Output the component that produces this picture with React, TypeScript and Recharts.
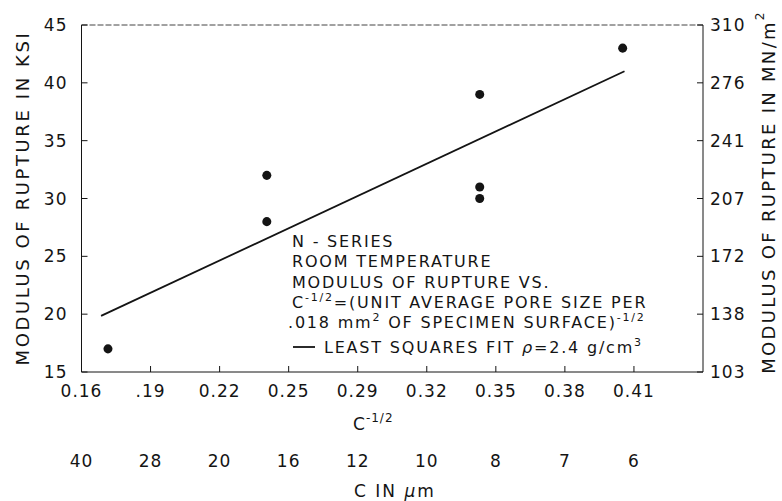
import { ComposedChart, Line, ReferenceLine, Scatter, XAxis, YAxis } from 'recharts'

// evenly spaced tick positions on the C^-1/2 scale, with the labels printed on the original
const xTicks = [0.16, 0.19, 0.22, 0.25, 0.28, 0.31, 0.34, 0.37, 0.4]
const xTickLabels = ['0.16', '.19', '0.22', '0.25', '0.29', '0.32', '0.35', '0.38', '0.41']
const cTickLabels = ['40', '28', '20', '16', '12', '10', '8', '7', '6']
const ksiTicks = [15, 20, 25, 30, 35, 40, 45]
const ksiTickLabels = ['15', '20', '25', '30', '35', '40', '45']
const mpaTickLabels = ['103', '138', '172', '207', '241', '276', '310']

// measured specimens (modulus of rupture, ksi)
const sampleX = [0.1715, 0.2405, 0.2405, 0.333, 0.333, 0.333, 0.3951]
const sampleRupture = [17, 32, 28, 39, 31, 30, 43]

// least squares fit end points
const fitX = [0.1685, 0.3959]
const fitRupture = [19.85, 41.0]

const samples = sampleX.map((x, i) => ({ x, y: sampleRupture[i] }))
const fit = fitX.map((x, i) => ({ x, y: fitRupture[i] }))

const ink = '#141414'
const font = "'DejaVu Sans', sans-serif"

function BottomTick({ x, y, index }: any) {
  return (
    <g>
      <line x1={x} y1={y} x2={x} y2={y - 6} stroke={ink} />
      <text x={x} y={y + 25} textAnchor='middle' fontSize={17} letterSpacing={1} fill={ink} fontFamily={font}>
        {xTickLabels[index]}
      </text>
    </g>
  )
}

function CTick({ x, y, index }: any) {
  return (
    <text x={x} y={y + 35} textAnchor='middle' fontSize={17} letterSpacing={1} fill={ink} fontFamily={font}>
      {cTickLabels[index]}
    </text>
  )
}

function LeftTick({ x, y, index }: any) {
  return (
    <g>
      <line x1={x} y1={y} x2={x + 6} y2={y} stroke={ink} />
      <text x={x - 14} y={y + 6} textAnchor='end' fontSize={17} letterSpacing={1} fill={ink} fontFamily={font}>
        {ksiTickLabels[index]}
      </text>
    </g>
  )
}

function RightTick({ x, y, index }: any) {
  return (
    <g>
      <line x1={x} y1={y} x2={x - 6} y2={y} stroke={ink} />
      <text x={x + 7} y={y + 6} textAnchor='start' fontSize={17} letterSpacing={1} fill={ink} fontFamily={font}>
        {mpaTickLabels[index]}
      </text>
    </g>
  )
}

const noteStyle = { fontSize: 16, letterSpacing: 1.8, fill: ink, fontFamily: font }

export default function App() {
  return (
    <div style={{ position: 'absolute', left: 0, top: 0, background: '#fff' }}>
      <ComposedChart width={782} height={501} margin={{ top: 25, right: 0, bottom: 0, left: 0.5 }}>
        <XAxis
          type='number'
          dataKey='x'
          domain={[0.16, 0.43]}
          ticks={xTicks}
          height={60}
          tickSize={0}
          tickMargin={0}
          tickLine={false}
          stroke={ink}
          tick={<BottomTick />}
          interval={0}
        />
        <XAxis
          xAxisId='c'
          type='number'
          dataKey='x'
          domain={[0.16, 0.43]}
          ticks={xTicks}
          height={69}
          tickSize={0}
          tickMargin={0}
          tickLine={false}
          axisLine={false}
          tick={<CTick />}
          interval={0}
        />
        <YAxis
          type='number'
          domain={[15, 45]}
          ticks={ksiTicks}
          width={81}
          tickSize={0}
          tickMargin={0}
          tickLine={false}
          stroke={ink}
          tick={<LeftTick />}
          interval={0}
        />
        <YAxis
          yAxisId='right'
          orientation='right'
          type='number'
          domain={[15, 45]}
          ticks={ksiTicks}
          width={79}
          tickSize={0}
          tickMargin={0}
          tickLine={false}
          stroke={ink}
          tick={<RightTick />}
          interval={0}
        />
        {/* top frame */}
        <ReferenceLine y={45} stroke='#444' strokeDasharray='6 2' />
        {/* hidden copies of the fit so the extra axes are drawn */}
        <Line
          data={fit}
          dataKey='y'
          yAxisId='right'
          stroke='none'
          dot={false}
          activeDot={false}
          legendType='none'
          isAnimationActive={false}
        />
        <Line
          data={fit}
          dataKey='y'
          xAxisId='c'
          stroke='none'
          dot={false}
          activeDot={false}
          legendType='none'
          isAnimationActive={false}
        />
        <Line
          data={fit}
          dataKey='y'
          type='linear'
          stroke={ink}
          strokeWidth={1.8}
          dot={false}
          activeDot={false}
          isAnimationActive={false}
        />
        <Scatter data={samples} dataKey='y' fill={ink} isAnimationActive={false} />

        {/* axis titles */}
        <text
          x={22}
          y={198}
          transform='rotate(-90 22 198)'
          textAnchor='middle'
          dominantBaseline='central'
          fontSize={18}
          letterSpacing={2.6}
          fill={ink}
          fontFamily={font}
        >
          MODULUS OF RUPTURE IN KSI
        </text>
        <text
          x={768}
          y={192}
          transform='rotate(-90 768 192)'
          textAnchor='middle'
          dominantBaseline='central'
          fontSize={18}
          letterSpacing={2.3}
          fill={ink}
          fontFamily={font}
        >
          MODULUS OF RUPTURE IN MN/m
          <tspan dy={-8} fontSize={12}>2</tspan>
        </text>
        <text x={353} y={430} fontSize={17} letterSpacing={1} fill={ink} fontFamily={font}>
          C<tspan dy={-8} fontSize={12}>-1/2</tspan>
        </text>
        <text x={354} y={497} fontSize={17} letterSpacing={2} fill={ink} fontFamily={font}>
          C IN <tspan fontStyle='italic'>µ</tspan>m
        </text>

        {/* annotation block */}
        <text x={292} y={247} {...noteStyle}>N - SERIES</text>
        <text x={292} y={267} {...noteStyle}>ROOM TEMPERATURE</text>
        <text x={292} y={288} {...noteStyle}>MODULUS OF RUPTURE VS.</text>
        <text x={292} y={308} {...noteStyle}>
          C<tspan dy={-7} fontSize={11}>-1/2</tspan>
          <tspan dy={7}>=(UNIT AVERAGE PORE SIZE PER</tspan>
        </text>
        <text x={288} y={328} {...noteStyle}>
          .018 mm<tspan dy={-7} fontSize={11}>2</tspan>
          <tspan dy={7}> OF SPECIMEN SURFACE)</tspan>
          <tspan dy={-7} fontSize={11}>-1/2</tspan>
        </text>
        <line x1={293} y1={347} x2={315} y2={347} stroke={ink} strokeWidth={1.8} />
        <text x={324} y={353} {...noteStyle}>
          LEAST SQUARES FIT <tspan fontStyle='italic'>ρ</tspan>=2.4 g/cm
          <tspan dy={-7} fontSize={11}>3</tspan>
        </text>
      </ComposedChart>
    </div>
  )
}
